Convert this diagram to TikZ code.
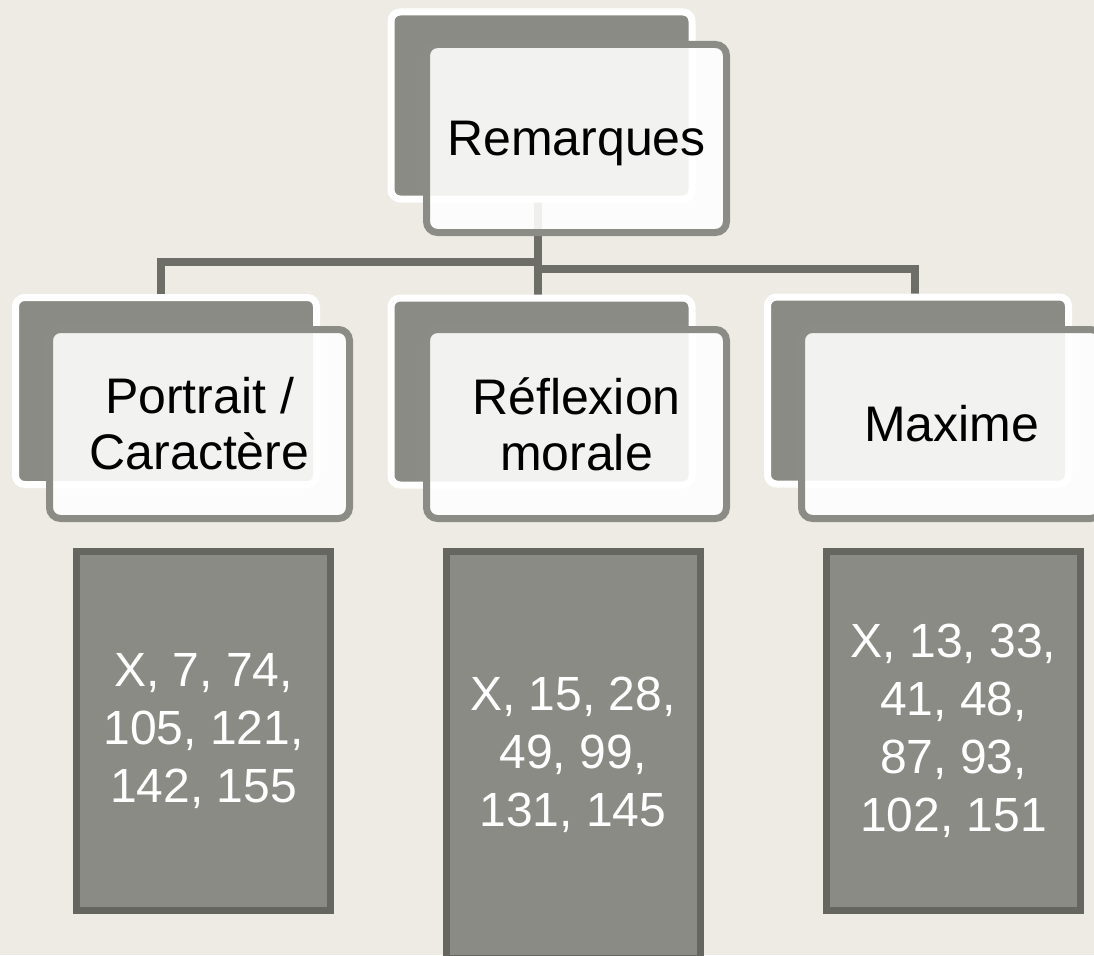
\documentclass[tikz,border=0pt]{standalone}
\usepackage{fontspec}
\setmainfont{Liberation Sans}
\definecolor{bg}{HTML}{EEEBE4}
\definecolor{darkfill}{HTML}{8B8B85}
\definecolor{darkline}{HTML}{666660}
\definecolor{connc}{HTML}{6E6E68}
\definecolor{frontline}{HTML}{8C8C86}
\tikzset{
  backbox/.style={draw=white, line width=7pt, fill=darkfill, rounded corners=9pt,
    minimum width=301pt, minimum height=187pt, inner sep=0pt},
  frontbox/.style={draw=frontline, line width=7pt, fill=white, fill opacity=0.89, text opacity=1,
    rounded corners=11pt, minimum width=300pt, minimum height=188pt, inner sep=0pt,
    align=center, text=black, font=\fontsize{50}{56}\selectfont},
  listbox/.style={draw=darkline, line width=7pt, fill=darkfill, minimum width=254pt,
    minimum height=359pt, inner sep=0pt, align=center, text=white,
    font=\fontsize{48}{58}\selectfont},
  conn/.style={draw=connc, line width=8pt}
}
\begin{document}
\begin{tikzpicture}[x=1pt,y=-1pt]
\fill[bg] (0,0) rectangle (1094,955);
\useasboundingbox (0,0) rectangle (1094,955);
\clip (0,0) rectangle (1094,955);
% coordinates for the bus
\coordinate (busL) at (538,262);
\coordinate (busR) at (538,269);
\coordinate (topc) at (538,105);
\coordinate (midc) at (538,391);
\coordinate (leftc) at (161,391);
\coordinate (rightc) at (915,391);
% connectors (behind boxes)
\draw[conn] (topc) -- (midc);
\draw[conn] (leftc) |- (busL);
\draw[conn] (rightc) |- (busR);
% top
\node[backbox] (tb) at (541.5,105.5) {};
\node[frontbox] (tf) at (576.5,138.5) {\raisebox{0pt}[\height][0pt]{Remarques}};
% level 2
\node[backbox] (lb) at (166,391) {};
\node[frontbox, minimum height=189pt] (lf) at (199.5,424) {Portrait /\\Caractère};
\node[backbox] (mb) at (541.5,391.5) {};
\node[frontbox, minimum height=189pt] (mf) at (576.5,424) {Réflexion\\morale};
\node[backbox] (rb) at (918,390.5) {};
\node[frontbox, minimum height=189pt] (rf) at (951.5,424) {Maxime};
% lists
\node[listbox] (ll) at (203.5,731) {X, 7, 74,\\105, 121,\\142, 155};
\node[listbox, minimum height=407pt] (ml) at (573,755) {X, 15, 28,\\49, 99,\\131, 145};
\node[listbox] (rl) at (953.5,731) {X, 13, 33,\\41, 48,\\87, 93,\\102, 151};
\end{tikzpicture}
\end{document}
